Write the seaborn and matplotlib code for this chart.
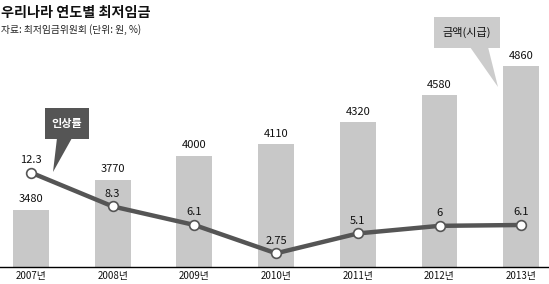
import matplotlib
matplotlib.use("Agg")
import matplotlib.pyplot as plt
import seaborn as sns
import numpy as np
import pandas as pd
from matplotlib.patches import Rectangle, Polygon

years = ["2007년", "2008년", "2009년", "2010년", "2011년", "2012년", "2013년"]
wages = [3480, 3770, 4000, 4110, 4320, 4580, 4860]
rates = [12.3, 8.3, 6.1, 2.75, 5.1, 6, 6.1]
rate_labels = ["12.3", "8.3", "6.1", "2.75", "5.1", "6", "6.1"]

title = "우리나라 연도별 최저임금"
subtitle = "자료: 최저임금위원회 (단위: 원, %)"

sns.set_theme(style="white")
plt.rcParams['font.family'] = ['Noto Sans CJK KR', 'DejaVu Sans']

W, H = 549, 284
fig = plt.figure(figsize=(W / 100, H / 100), dpi=100)

def fx(x):
    return x / W

def fy(y):
    return 1 - y / H

# axes from y=40 to baseline y=267, full width
ax = fig.add_axes([0, fy(267), 1, (267 - 40) / H])
df = pd.DataFrame({"year": years, "wage": wages, "rate": rates})
pos = np.arange(len(years))

sns.barplot(data=df, x="year", y="wage", ax=ax, color="#c8c8c8", width=0.44,
            saturation=1, edgecolor="none")
ax.set_ylim(2930, 5113)
ax.set_xlim(-0.379, 6.34)
for i, v in enumerate(wages):
    ax.annotate(str(v), (pos[i], v), xytext=(0, 4), textcoords="offset points",
                ha="center", va="bottom", fontsize=8, color="#111111")

for s in ["top", "right", "left"]:
    ax.spines[s].set_visible(False)
ax.spines["bottom"].set_color("#000000")
ax.spines["bottom"].set_linewidth(1.0)
ax.set_yticks([])
ax.set_xlabel("")
ax.set_ylabel("")
ax.tick_params(axis="x", length=0, pad=3, labelsize=7, colors="#111111")

ax2 = ax.twinx()
sns.lineplot(x=pos, y=rates, ax=ax2, color="#555555", linewidth=3.2,
             marker="o", markersize=7, markerfacecolor="white",
             markeredgecolor="#555555", markeredgewidth=1.2)
ax2.set_ylim(1.13, 27.99)
ax2.set_xlim(-0.379, 6.34)
for i, v in enumerate(rates):
    ax2.annotate(rate_labels[i], (pos[i], v), xytext=(0, 5.5), textcoords="offset points",
                 ha="center", va="bottom", fontsize=8, color="#111111")
for s in ax2.spines.values():
    s.set_visible(False)
ax2.set_yticks([])
ax2.set_ylabel("")

# titles
fig.text(fx(1), fy(13), title, fontsize=10.2, fontweight="bold", ha="left", va="center", color="#111111")
fig.text(fx(1), fy(30), subtitle, fontsize=7, ha="left", va="center", color="#222222")

# callout: 인상률
fig.patches.append(Rectangle((fx(45), fy(139)), fx(44), (139 - 108) / H,
                             transform=fig.transFigure, facecolor="#555555", edgecolor="none"))
fig.patches.append(Polygon([(fx(57), fy(138)), (fx(72), fy(138)), (fx(53), fy(172))],
                           closed=True, transform=fig.transFigure, facecolor="#555555", edgecolor="none"))
fig.text(fx(67), fy(123.5), "인상률", fontsize=8, fontweight="bold", color="white", ha="center", va="center")

# callout: 금액(시급)
fig.patches.append(Rectangle((fx(434), fy(48)), fx(66), (48 - 17) / H,
                             transform=fig.transFigure, facecolor="#cccccc", edgecolor="none"))
fig.patches.append(Polygon([(fx(470), fy(47)), (fx(488), fy(47)), (fx(498), fy(87))],
                           closed=True, transform=fig.transFigure, facecolor="#cccccc", edgecolor="none"))
fig.text(fx(467), fy(32.5), "금액(시급)", fontsize=8, color="#111111", ha="center", va="center")

fig.savefig("out.png", dpi=100)
